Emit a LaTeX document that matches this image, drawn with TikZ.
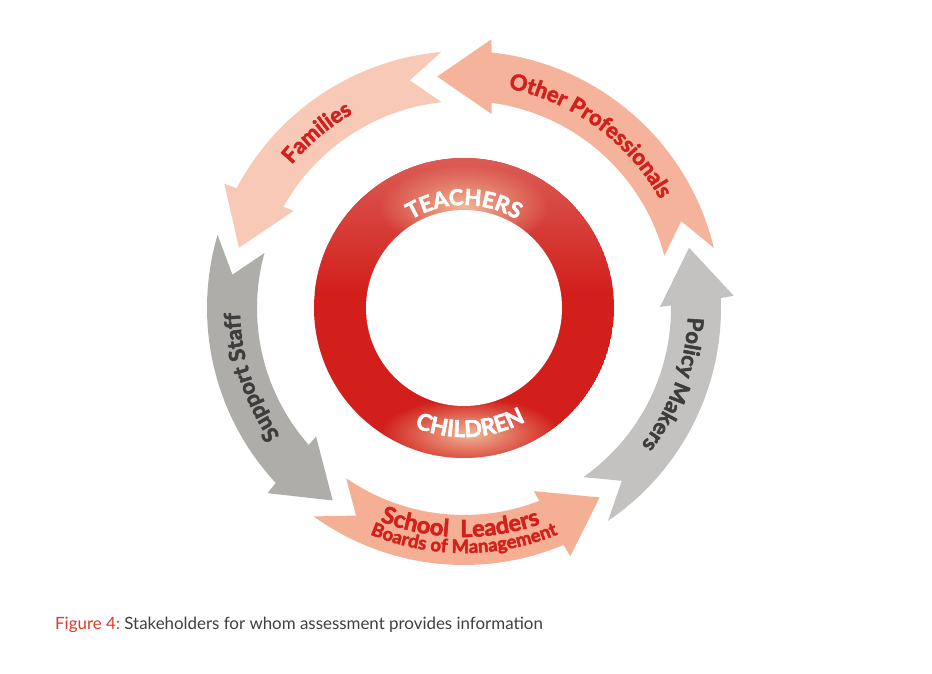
\documentclass[tikz,border=0pt]{standalone}
\usepackage{fontspec}
\setmainfont{Lato}
\newfontfamily\lblfont{Lato}[FakeBold=2.5]
\usetikzlibrary{decorations.text,fadings}
\definecolor{ringred}{HTML}{D21F1B}
\definecolor{ringtop}{HTML}{DB5C55}
\definecolor{glowpeach}{HTML}{F0B797}
\definecolor{famcol}{HTML}{F8C9B7}
\definecolor{opcol}{HTML}{F5B39B}
\definecolor{slcol}{HTML}{F5AF95}
\definecolor{sscol}{HTML}{AEADA9}
\definecolor{pmcol}{HTML}{C3C2C0}
\definecolor{lblred}{HTML}{D2211C}
\definecolor{lblgray}{HTML}{3D3D3D}
\definecolor{capred}{HTML}{D93B2B}
\definecolor{capgray}{HTML}{404040}
\tikzfading[name=glowfade, inner color=transparent!0, outer color=transparent!100]
% tail angle, tip angle, colour
\newcommand\stakearrow[3]{%
  \pgfmathsetmacro\stkOC{#2-12.8}%
  \pgfmathsetmacro\stkOB{#2-12.4}%
  \pgfmathsetmacro\stkIB{#2-14.7}%
  \pgfmathsetmacro\stkIC{#2-14.3}%
  \pgfmathsetmacro\stkTI{#1+1.1}%
  \pgfmathsetmacro\stkNV{#1+8.3}%
  \fill[#3] (#1:257) arc[start angle=#1, end angle=\stkOC, radius=257]
    -- (\stkOB:270) -- (#2:233) -- (\stkIB:196) -- (\stkIC:207)
    arc[start angle=\stkIC, end angle=\stkTI, radius=207]
    -- (\stkNV:234) -- cycle;}
\tikzset{
  arclabel/.style={decorate, decoration={text along path, text align=center, text={#1}}}
}
\begin{document}
\begin{tikzpicture}[x=1pt,y=1pt]
\useasboundingbox (0,0) rectangle (932,673);
\fill[white] (0,0) rectangle (932,673);
\begin{scope}[shift={(464,365)}]
  % arrows
  \stakearrow{13.5}{96.6}{opcol}
  \stakearrow{95.1}{165}{famcol}
  \stakearrow{163.5}{235.7}{sscol}
  \stakearrow{234.2}{305.6}{slcol}
  \stakearrow{-55.9}{15}{pmcol}
  % ring
  \begin{scope}
    \clip (0,0) circle (150);
    \fill[ringred] (0,0) circle (150);
    \shade[top color=ringtop, bottom color=ringred] (-150,15) rectangle (150,150);
    \fill[glowpeach, path fading=glowfade] (0,101) ellipse (85 and 42);
    \fill[glowpeach, path fading=glowfade] (6,-126) ellipse (90 and 36);
  \end{scope}
  \fill[white] (0,0) circle (98);
  % ring labels
  \path[arclabel={|\fontsize{22}{22}\lblfont\bfseries\color{white}|TEACHERS}]
    (140:103) arc[start angle=140, end angle=40, radius=103];
  \path[arclabel={|\fontsize{23}{23}\lblfont\bfseries\color{white}|CHILDREN}]
    (223:129) arc[start angle=223, end angle=323, radius=129];
  % arrow labels
  \path[arclabel={|\fontsize{22}{22}\lblfont\bfseries\color{lblred}|Families}]
    (170:224) arc[start angle=170, end angle=90, radius=224];
  \path[arclabel={|\fontsize{22}{22}\lblfont\bfseries\color{lblred}|Other Professionals}]
    (103.8:224) arc[start angle=103.8, end angle=3.8, radius=224];
  \path[arclabel={|\fontsize{22}{22}\lblfont\bfseries\color{lblgray}|Support Staff}]
    (240:224) arc[start angle=240, end angle=156, radius=224];
  \path[arclabel={|\fontsize{22}{22}\lblfont\bfseries\color{lblgray}|Policy Makers}]
    (21:224) arc[start angle=21, end angle=-61, radius=224];
  \path[arclabel={|\fontsize{23.5}{23.5}\lblfont\bfseries\color{lblred}|School{\hspace*{12pt}}Leaders}]
    (229:229) arc[start angle=229, end angle=309, radius=229];
  \path[arclabel={|\fontsize{18.5}{18.5}\lblfont\bfseries\color{lblred}|Boards of Management}]
    (230:245) arc[start angle=230, end angle=310, radius=245];
\end{scope}
\node[anchor=base west, inner sep=0pt] (cap) at (55,44)
  {\fontsize{16.9}{20}\selectfont\color{capred}Figure 4:\color{capgray}\ Stakeholders for whom assessment provides information};
\end{tikzpicture}
\end{document}
